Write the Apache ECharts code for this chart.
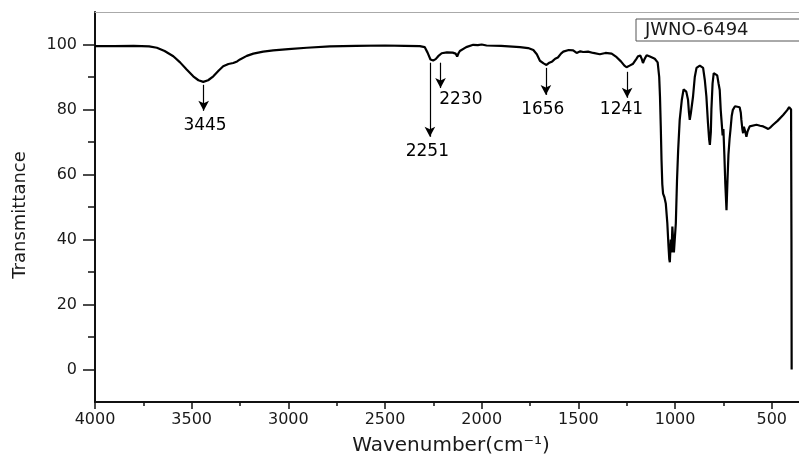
<!DOCTYPE html>
<html>
<head>
<meta charset="utf-8">
<script src="https://cdn.jsdelivr.net/npm/echarts@6/dist/echarts.min.js"></script>
<style>
html,body{margin:0;padding:0;background:#fff;}
#chart{width:799px;height:456px;}
</style>
</head>
<body>
<div id="chart"></div>
<script>
// Spectrum (wavenumber cm-1, transmittance %)
var wavenumbers = [4000,3900,3800,3720,3680,3640,3595,3560,3526,3492,3465,3440,3415,3388,3360,3337,3310,3285,3265,3250,3215,3181,3130,3078,3000,2905,2785,2650,2500,2400,2320,2295,2280,2265,2251,2238,2225,2207,2180,2150,2135,2127,2120,2113,2080,2044,2020,2000,1975,1900,1802,1760,1733,1715,1699,1680,1665,1650,1635,1620,1606,1590,1578,1550,1527,1509,1490,1475,1450,1423,1389,1360,1328,1302,1280,1262,1251,1235,1217,1200,1191,1180,1172,1166,1158,1147,1130,1105,1090,1082,1078,1074,1070,1066,1062,1055,1048,1040,1034,1030,1027,1022,1018,1014,1010,1006,1001,996,990,984,976,965,956,950,942,933,928,924,918,907,898,889,872,855,846,838,830,824,820,815,812,806,800,790,782,775,769,764,760,757,754,750,745,740,734,729,724,718,713,707,701,690,683,666,660,657,652,648,644,640,636,631,626,622,614,605,579,560,544,530,518,505,493,470,441,420,410,404,400,398,397];
var transmittance = [99.5,99.5,99.6,99.4,99.0,98.0,96.4,94.5,92.3,90.2,89.0,88.5,89.0,90.2,92.0,93.3,94.0,94.3,94.8,95.4,96.5,97.2,97.8,98.2,98.6,99.0,99.4,99.6,99.7,99.6,99.5,99.2,97.5,95.4,95.1,95.5,96.4,97.3,97.6,97.5,97.2,96.3,97.3,98.0,99.2,99.9,99.8,100.0,99.7,99.6,99.2,98.9,98.3,97.0,95.0,94.2,93.7,94.4,94.8,95.6,96.0,97.2,97.8,98.3,98.2,97.4,97.9,97.7,97.8,97.4,97.0,97.4,97.2,96.1,94.8,93.5,93.0,93.5,94.1,95.6,96.4,96.6,95.5,94.3,95.5,96.7,96.3,95.6,94.5,90,84,75,64.4,57,54.1,53,51.1,45,38,34,33.0,40,36,44,43.8,36,35.6,45,58,67.5,76.8,83,86.2,86.6,85.5,83,79,76.8,79,84,90,92.8,93.5,92.8,89,84,76,71,69.1,73,80,88,91.2,91.2,90.5,88,86,80,76.8,77,72,74,66,57,49,58,66,71,74,78,79.9,81.0,81.1,80.7,79,76.8,74,72.7,74.7,74.7,73,71.6,73,73.7,74.8,75.3,75.3,75,74.8,74.4,74,74.6,75.3,76.5,78.3,79.8,80.7,80.6,80,40,0];

// Peak annotations
var peakNames   = ['3445','2251','2230','1656','1241'];
var arrowX      = [3438, 2268, 2213, 1668, 1248];
var arrowTop    = [87.6, 94.4, 94.4, 92.8, 91.6];
var arrowTip    = [79.6, 71.6, 86.6, 84.5, 83.6];
var labelX      = [3431, 2281, 2108, 1684, 1277];
var labelY      = [75.2, 66.9, 83.0, 79.9, 80.0];

// Axis ticks
var xTicks = [4000,3500,3000,2500,2000,1500,1000,500];
var xMinor = [3750,3250,2750,2250,1750,1250,750];
var yMajor = [0,20,40,60,80,100];
var yMinor = [10,30,50,70,90];
var xRange = [359, 4000];
var yRange = [-10, 110];
var sampleName = 'JWNO-6494';

var spectrum = wavenumbers.map(function(w,i){return [w, transmittance[i]];});
var arrows = peakNames.map(function(n,i){
  return [{coord:[arrowX[i], arrowTop[i]]},{coord:[arrowX[i], arrowTip[i]]}];
});
var peakLabels = peakNames.map(function(n,i){return [labelX[i], labelY[i], n];});

var txt = '#1a1a1a';
var font = 'DejaVu Sans';
var gridPos = {left:95, right:0, top:12, bottom:54};
var plain = function(v){ return String(v); };
var chart = echarts.init(document.getElementById('chart'));
chart.setOption({
  animation:false,
  backgroundColor:'#fff',
  grid:[Object.assign({}, gridPos), Object.assign({}, gridPos)],
  xAxis:[{
    gridIndex:0, type:'value', min:xRange[0], max:xRange[1], inverse:true, position:'bottom',
    axisLine:{show:true, onZero:false, lineStyle:{color:'#111', width:2}},
    axisTick:{show:true, length:7, customValues:xTicks, lineStyle:{color:'#111', width:1.5}},
    splitLine:{show:false},
    axisLabel:{customValues:xTicks, margin:10, color:txt, fontFamily:font, fontSize:16, formatter:plain}
  },{
    gridIndex:0, type:'value', min:xRange[0], max:xRange[1], inverse:true, position:'top',
    axisLine:{show:true, onZero:false, lineStyle:{color:'#aaa', width:1}},
    axisTick:{show:false}, axisLabel:{show:false}, splitLine:{show:false}
  },{
    gridIndex:1, type:'value', min:xRange[0], max:xRange[1], inverse:true, position:'bottom',
    axisLine:{show:false, onZero:false},
    axisTick:{show:true, length:4, customValues:xMinor, lineStyle:{color:'#111', width:1.5}},
    axisLabel:{show:false}, splitLine:{show:false}
  }],
  yAxis:[{
    gridIndex:0, type:'value', min:yRange[0], max:yRange[1], position:'left',
    axisLine:{show:true, onZero:false, lineStyle:{color:'#111', width:2}},
    axisTick:{show:true, length:12, customValues:yMajor, lineStyle:{color:'#111', width:1.5}},
    axisLabel:{show:true, customValues:yMajor, margin:18, color:txt, fontFamily:font, fontSize:16, formatter:plain},
    splitLine:{show:false}
  },{
    gridIndex:1, type:'value', min:yRange[0], max:yRange[1], position:'left',
    axisLine:{show:false, onZero:false},
    axisTick:{show:true, length:7, customValues:yMinor, lineStyle:{color:'#111', width:1.5}},
    axisLabel:{show:false},
    splitLine:{show:false}
  }],
  series:[{
    type:'line', data:spectrum, showSymbol:false, symbol:'none',
    lineStyle:{color:'#000', width:2.2}, xAxisIndex:0, yAxisIndex:0,
    markLine:{
      silent:true, symbol:['none','arrow'], symbolSize:[8,10],
      lineStyle:{color:'#000', width:1.2, type:'solid'},
      label:{show:false}, data:arrows
    }
  },{
    type:'scatter', data:peakLabels, symbol:'circle', symbolSize:1, silent:true, xAxisIndex:0, yAxisIndex:0,
    itemStyle:{color:'rgba(0,0,0,0)', opacity:1},
    emphasis:{disabled:true},
    labelLayout:{hideOverlap:false},
    label:{show:true, position:'inside', color:'#000', opacity:1, textBorderWidth:0, fontFamily:font, fontSize:17,
      formatter:function(p){return p.data[2];}}
  }],
  graphic:[
    {type:'rect', shape:{x:636, y:19, width:175, height:22},
     style:{fill:'#fff', stroke:'#555', lineWidth:1}},
    {type:'text', x:645, y:30, style:{text:sampleName, fill:txt, font:'18px "DejaVu Sans"', verticalAlign:'middle', align:'left'}},
    {type:'text', x:451, y:446, style:{text:'Wavenumber(cm⁻¹)', fill:txt, font:'20px "DejaVu Sans"', verticalAlign:'middle', align:'center'}},
    {type:'text', x:20, y:215, rotation:Math.PI/2, style:{text:'Transmittance', fill:txt, font:'18px "DejaVu Sans"', verticalAlign:'middle', align:'center'}}
  ]
});
</script>
</body>
</html>
